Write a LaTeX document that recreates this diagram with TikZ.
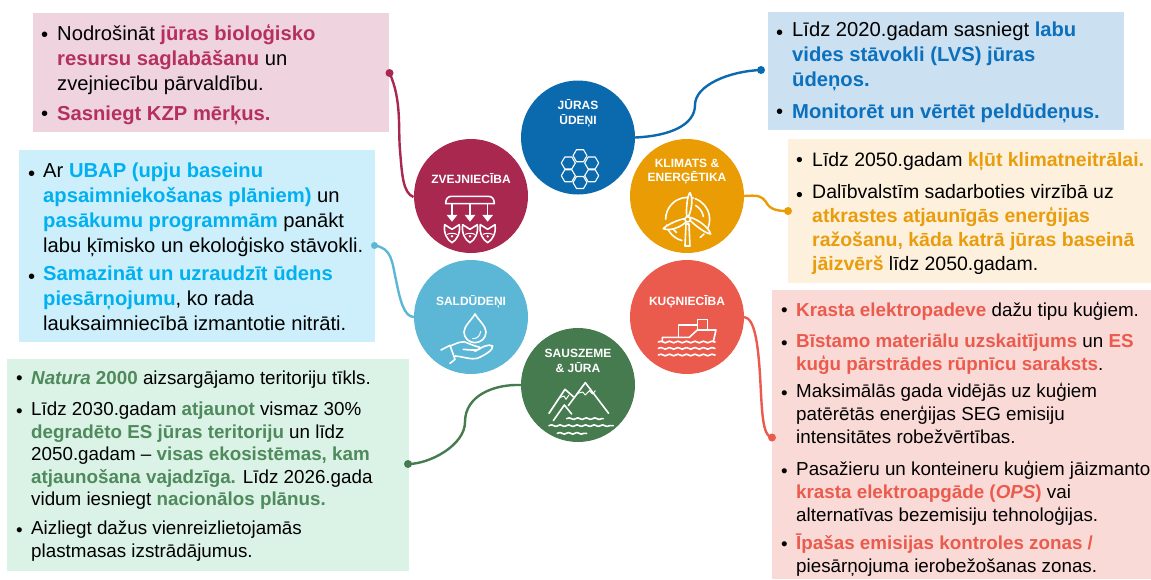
\documentclass[tikz,border=0pt]{standalone}
\usepackage{fontspec}
\setmainfont{Liberation Sans}
\usetikzlibrary{decorations.pathmorphing}
\definecolor{cpink}{HTML}{A82850}\definecolor{tpink}{HTML}{B5305F}\definecolor{bpink}{HTML}{EFD3DE}
\definecolor{cblue}{HTML}{0B69AD}\definecolor{tblue}{HTML}{0B70BD}\definecolor{bblue}{HTML}{CBE0F1}
\definecolor{corange}{HTML}{E99C03}\definecolor{torange}{HTML}{E99C0C}\definecolor{borange}{HTML}{FDF0DC}
\definecolor{clight}{HTML}{5BB7D5}\definecolor{tlight}{HTML}{00B0F0}\definecolor{blight}{HTML}{CDEFFB}
\definecolor{cred}{HTML}{EB5B4D}\definecolor{bred}{HTML}{FADAD7}
\definecolor{cgreen}{HTML}{467B50}\definecolor{tgreen}{HTML}{4E8A5B}\definecolor{bgreen}{HTML}{DBF2E6}
\newcommand{\hl}[2]{\textcolor{#1}{\textbf{#2}}}
\tikzset{
 x=1pt,y=-1pt,
 panel/.style={anchor=north west,inner sep=0pt,outer sep=0pt,minimum width=#1},
 disc/.style={circle,fill=#1,minimum size=114pt,inner sep=0pt,outer sep=0pt},
 dotend/.style={circle,fill=#1,minimum size=8pt,inner sep=0pt},
 tag/.style={text=white,font=\fontsize{12}{14.5}\selectfont\bfseries,align=center,inner sep=0pt},
 para/.style={anchor=north west,inner sep=0pt,align=left,execute at begin node=\strut},
 pA/.style={para,font=\fontsize{20.2}{25}\selectfont},
 pB/.style={para,font=\fontsize{19.45}{24}\selectfont},
 pC/.style={para,font=\fontsize{18.8}{23}\selectfont},
 pD/.style={para,font=\fontsize{18.8}{22.5}\selectfont},
 link/.style={line width=2.4pt,draw=#1},
 icon/.style={draw=white,line width=1.6pt,line join=round,line cap=round},
 wave/.style={icon,decorate,decoration={snake,amplitude=0.8pt,segment length=8.5pt}},
}
\begin{document}
\begin{tikzpicture}
\useasboundingbox (0,0) rectangle (1151,579);
\fill[white] (0,0) rectangle (1151,579);
% panels
\node[panel=356pt,minimum height=119pt,fill=bpink] (boxfish) at (33,13) {};
\node[panel=356pt,minimum height=118pt,fill=bblue] (boxsea) at (768,12) {};
\node[panel=363pt,minimum height=144pt,fill=borange] (boxclim) at (788,139) {};
\node[panel=379pt,minimum height=289pt,fill=bred] (boxship) at (772,290) {};
\node[panel=356pt,minimum height=192pt,fill=blight] (boxfresh) at (19,150) {};
\node[panel=402pt,minimum height=212pt,fill=bgreen] (boxland) at (7,359) {};
% discs
\node[disc=cblue] (juras) at (578,137.5) {};
\node[disc=cpink] (zvej) at (471,196) {};
\node[disc=corange] (klim) at (687,196) {};
\node[disc=clight] (sald) at (471,317) {};
\node[disc=cred] (kug) at (687,317) {};
\node[disc=cgreen] (saus) at (578,385) {};
% disc labels
\node[tag] (ljuras) at (578,113.5) {JŪRAS\\ŪDEŅI};
\node[tag] (lzvej) at (471,179) {ZVEJNIECĪBA};
\node[tag] (lklim) at (687,171.5) {KLIMATS \&\\ENERĢĒTIKA};
\node[tag] (lsald) at (471,302) {SALDŪDEŅI};
\node[tag] (lkug) at (687,301.5) {KUĢNIECĪBA};
\node[tag] (lsaus) at (578,361) {SAUSZEME\\\& JŪRA};
% end dots
\node[dotend=cpink] (dfish) at (389.5,73) {};
\node[dotend=cblue] (dsea) at (761,70) {};
\node[dotend=corange] (dclim) at (788,211) {};
\node[dotend=clight,minimum size=7pt] (dfresh) at (374.5,245.5) {};
\node[dotend=cred] (dship) at (772,437.5) {};
\node[dotend=cgreen] (dland) at (408,464) {};
% connectors
\draw[link=cpink] (dfish.center) .. controls (402,100) and (398,130) .. (400,150) .. controls (402,175) and (403,193) .. (413.5,197);
\draw[link=cblue] (juras.east) .. controls (670,136) and (695,125) .. (695,105) .. controls (695,85) and (730,71) .. (dsea.center);
\draw[link=corange] (klim.east) .. controls (758,195) and (762,196) .. (766,202) .. controls (770,210) and (778,211) .. (dclim.center);
\draw[link=clight] (dfresh.center) .. controls (392,248) and (392,262) .. (396,280) .. controls (400,300) and (404,317) .. (sald.west);
\draw[link=cred] (kug.east) .. controls (755,318) and (758,345) .. (760,375) .. controls (762,410) and (762,436) .. (dship.center);
\draw[link=cgreen] (saus.west) .. controls (495,384) and (465,395) .. (465,422) .. controls (465,445) and (430,464) .. (dland.center);
% icon: hexagons
\foreach \hx/\hy in {580/155.7,568.3/163,591.7/163,568.3/175.7,591.7/175.7,580/182.5}{
 \draw[icon,line width=1.1pt] (\hx-7,\hy) -- (\hx-3.5,\hy-6) -- (\hx+3.5,\hy-6) -- (\hx+7,\hy) -- (\hx+3.5,\hy+6) -- (\hx-3.5,\hy+6) -- cycle;
}
% icon: fish
\begin{scope}[shift={(400,70)},x=0.3333pt,y=-0.3333pt]
 \draw[icon] (137,401) .. controls (137,385) and (145,379) .. (155,379) -- (265,379) .. controls (275,379) and (283,385) .. (283,401) -- cycle;
 \foreach \fx in {156,210,263}{
  \draw[icon] (\fx,401) -- (\fx,438);
  \fill[white] (\fx-16,435) -- (\fx+16,435) -- (\fx,455) -- cycle;
  \draw[icon] (\fx-22,464) -- (\fx,478) -- (\fx+22,464) .. controls (\fx+26,490) and (\fx+14,510) .. (\fx,518) .. controls (\fx-14,510) and (\fx-26,490) .. (\fx-22,464);
  \draw[icon,line width=1pt] (\fx-14,493) .. controls (\fx-6,489) and (\fx+6,489) .. (\fx+14,493);
  \fill[white] (\fx,499) circle (4);
 }
% icon: turbine ring (angles run clockwise on the page here)
 \foreach \ta/\tb/\tr in {-75/-180/66, 165/125/66, -70/30/66, 55/42/66, 125/105/66, -60/-10/48, 130/160/52}{
  \draw[icon] (863,448) ++(\ta:\tr) arc[start angle=\ta,end angle=\tb,radius=\tr];
 }
 \draw[icon,fill=corange] (855,528) -- (858,462) -- (867,462) -- (870,528) -- cycle;
 \draw[icon,fill=corange] (860,438) .. controls (858,410) and (863,375) .. (870,368) .. controls (880,385) and (875,420) .. (866,438) -- cycle;
 \draw[icon,fill=corange] (856,446) .. controls (835,448) and (800,465) .. (790,476) .. controls (810,485) and (845,470) .. (858,456) -- cycle;
 \draw[icon,fill=corange] (871,452) .. controls (885,465) and (915,490) .. (932,492) .. controls (925,470) and (895,450) .. (871,442) -- cycle;
 \draw[icon,fill=corange] (863,448) circle (8);
\end{scope}
% icons on lower row
\begin{scope}[shift={(400,260)},x=0.3333pt,y=-0.3333pt]
 % drop and hand
 \draw[icon] (225,162) .. controls (215,180) and (192,198) .. (192,216) .. controls (192,235) and (208,248) .. (225,248) .. controls (242,248) and (258,235) .. (258,216) .. controls (258,198) and (235,180) .. (225,162) -- cycle;
 \draw[icon,line width=1pt] (218,236) .. controls (232,236) and (240,228) .. (242,214);
 \draw[icon] (123,270) -- (150,256) -- (165,298) -- (150,310);
 \draw[icon] (150,258) .. controls (175,248) and (190,240) .. (205,250) .. controls (215,255) and (225,258) .. (240,262) .. controls (245,270) and (225,272) .. (190,268);
 \draw[icon] (165,288) .. controls (190,290) and (215,300) .. (232,295) .. controls (255,285) and (280,270) .. (278,258) .. controls (265,250) and (245,262) .. (225,274);
 % ship
 \draw[icon] (787,245) -- (787,232) -- (868,232) -- (892,210) -- (948,210) -- (940,245);
 \draw[icon] (835,232) -- (835,195) -- (892,195) -- (892,208);
 \draw[icon] (892,210) -- (892,178) -- (922,178) -- (922,210);
 \draw[wave] (775,246) -- (945,246);
 \draw[wave] (775,265) -- (945,265);
 \draw[wave] (775,285) -- (945,285);
 % mountains
 \draw[icon] (505,437) -- (556,368) -- (626,460);
 \draw[icon] (447,460) -- (495,388) -- (520,410);
 \draw[icon] (460,482) -- (493,435) -- (515,462);
 \draw[icon,line width=1pt] (533,400) -- (548,396) -- (556,405) -- (568,392) -- (578,402) -- (586,392);
 \draw[icon,line width=1pt] (478,413) -- (492,408) -- (498,418) -- (507,405);
 \draw[wave] (500,476) -- (610,476);
 \draw[wave] (447,497) -- (640,497);
 \draw[wave] (472,520) -- (560,520);
\end{scope}
% text: fisheries
\node[pA] (b11) at (41,24) {•};
\node[pA,anchor=north west] (t11) at (57,24) {Nodrošināt \hl{tpink}{jūras bioloģisko}\\\hl{tpink}{resursu saglabāšanu} un\\zvejniecību pārvaldību.};
\node[pA] (b12) at (41,103) {•};
\node[pA] (t12) at (57,103) {\hl{tpink}{Sasniegt KZP mērķus.}};
% text: sea
\node[pA] (b21) at (776,22) {•};
\node[pA] (t21) at (792,22) {Līdz 2020.gadam sasniegt \hl{tblue}{labu}\\\hl{tblue}{vides stāvokli (LVS) jūras}\\\hl{tblue}{ūdeņos.}};
\node[pA] (b22) at (776,101) {•};
\node[pA] (t22) at (792,101) {\hl{tblue}{Monitorēt un vērtēt peldūdeņus.}};
% text: climate
\node[pB] (b31) at (796,149) {•};
\node[pB] (t31) at (812,149) {Līdz 2050.gadam \hl{torange}{kļūt klimatneitrālai.}};
\node[pB] (b32) at (796,184) {•};
\node[pB] (t32) at (812,184) {Dalībvalstīm sadarboties virzībā uz\\\hl{torange}{atkrastes atjaunīgās enerģijas}\\\hl{torange}{ražošanu, kāda katrā jūras baseinā}\\\hl{torange}{jāizvērš} līdz 2050.gadam.};
% text: shipping
\node[pC] (b41) at (781,300.5) {•};
\node[pC] (t41) at (796,300.5) {\hl{cred}{Krasta elektropadeve} dažu tipu kuģiem.};
\node[pC] (b42) at (781,333.5) {•};
\node[pC] (t42) at (796,333.5) {\hl{cred}{Bīstamo materiālu uzskaitījums} un \hl{cred}{ES}\\\hl{cred}{kuģu pārstrādes rūpnīcu saraksts}.};
\node[pC] (b43) at (781,383) {•};
\node[pC] (t43) at (796,383) {Maksimālās gada vidējās uz kuģiem\\patērētās enerģijas SEG emisiju\\intensitātes robežvērtības.};
\node[pC] (b44) at (781,461) {•};
\node[pC] (t44) at (796,461) {Pasažieru un konteineru kuģiem jāizmanto\\\hl{cred}{krasta elektroapgāde (\textit{OPS})} vai\\alternatīvas bezemisiju tehnoloģijas.};
\node[pC] (b45) at (781,534) {•};
\node[pC] (t45) at (796,534) {\hl{cred}{Īpašas emisijas kontroles zonas /}\\piesārņojuma ierobežošanas zonas.};
% text: freshwater
\node[pA] (b51) at (28,162.5) {•};
\node[pA] (t51) at (43,162.5) {Ar \hl{tlight}{UBAP (upju baseinu}\\\hl{tlight}{apsaimniekošanas plāniem)} un\\\hl{tlight}{pasākumu programmām} panākt\\labu ķīmisko un ekoloģisko stāvokli.};
\node[pA] (b52) at (28,266) {•};
\node[pA] (t52) at (43,266) {\hl{tlight}{Samazināt un uzraudzīt ūdens}\\\hl{tlight}{piesārņojumu}, ko rada\\lauksaimniecībā izmantotie nitrāti.};
% text: land and sea
\node[pC] (b61) at (16,368.5) {•};
\node[pC] (t61) at (31,368.5) {\hl{tgreen}{\textit{Natura} 2000} aizsargājamo teritoriju tīkls.};
\node[pD] (b62) at (16,402) {•};
\node[pD] (t62) at (31,402) {Līdz 2030.gadam \hl{tgreen}{atjaunot} vismaz 30\%\\\hl{tgreen}{degradēto ES jūras teritoriju} un līdz\\2050.gadam – \hl{tgreen}{visas ekosistēmas, kam}\\\hl{tgreen}{atjaunošana vajadzīga.} Līdz 2026.gada\\vidum iesniegt \hl{tgreen}{nacionālos plānus.}};
\node[pC] (b63) at (16,520.5) {•};
\node[pC] (t63) at (31,520.5) {Aizliegt dažus vienreizlietojamās\\plastmasas izstrādājumus.};
\end{tikzpicture}
\end{document}
